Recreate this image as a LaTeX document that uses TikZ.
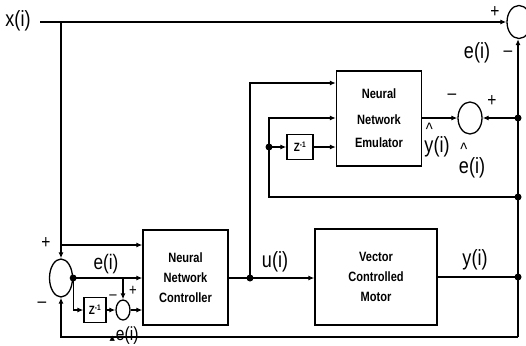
\documentclass[tikz,border=0pt]{standalone}
\usepackage{fontspec}
\setmainfont{Liberation Sans}
\newfontfamily\narrow[FakeStretch=0.82]{Liberation Sans}
\newfontfamily\dejavu{DejaVu Sans}
\usetikzlibrary{shapes.geometric,arrows.meta}
\begin{document}
\begin{tikzpicture}[x=1pt,y=-1pt,
  line width=1.3pt,
  arr/.style={-{Latex[length=6pt,width=5pt]}},
  blk/.style={draw,rectangle,inner sep=0pt,align=center,font=\narrow\bfseries\fontsize{13.5}{20}\selectfont},
  zbox/.style={draw,rectangle,inner sep=0pt,font=\narrow\bfseries\fontsize{12}{12}\selectfont},
  sumc/.style={draw,ellipse,inner sep=0pt},
  lbl/.style={inner sep=0pt,font=\narrow\fontsize{22}{22}\selectfont},
  sgn/.style={inner sep=0pt,font=\narrow\fontsize{19}{19}\selectfont},
  jdot/.style={circle,fill,inner sep=0pt,minimum size=7pt},
]
\useasboundingbox (0,0) rectangle (526,345);

% blocks
\node[blk,minimum width=85pt,minimum height=95pt] (emu) at (379,118.5)
  {\raisebox{5pt}{\begin{tabular}{@{}c@{}}Neural\\[6pt]Network\\[3pt]Emulator\end{tabular}}};
\node[blk,minimum width=85pt,minimum height=95pt] (ctrl) at (185.5,277.5)
  {Neural\\Network\\Controller};
\node[blk,minimum width=122pt,minimum height=96pt] (motor) at (376,277)
  {Vector\\Controlled\\Motor};
\node[zbox,minimum width=26pt,minimum height=25pt] (ze) at (300,147) {Z\textsuperscript{-1}};
\node[zbox,minimum width=22pt,minimum height=25pt] (zc) at (95,310) {Z\textsuperscript{-1}};

% summing junctions
\node[sumc,minimum width=24pt,minimum height=33pt] (topsum) at (519,22) {};
\node[sumc,minimum width=24pt,minimum height=32pt] (esum) at (470,118) {};
\node[sumc,minimum width=23pt,minimum height=38pt] (lsum) at (61,278) {};
\node[sumc,minimum width=14pt,minimum height=20pt] (ssum) at (123,310) {};

% coordinates
\coordinate (xs) at (40,22);
\coordinate (jx) at (61,22);
\coordinate (jxb) at (61,245);
\coordinate (eb) at (123,278);
\coordinate (ud) at (250,278);
\coordinate (uup) at (250,83);
\coordinate (jd) at (269,147);
\coordinate (edot) at (518,118);
\coordinate (fb) at (518,197);
\coordinate (ydot) at (518,277);
\coordinate (br) at (518,337);

% connectors
\draw[arr] (xs) -- (topsum.west);
\draw[arr] (jx) -- (lsum.north);
\draw[arr] (jxb) -- (ctrl.west |- jxb);
\draw[arr] (lsum.east) -- (ctrl.west |- lsum.east);
\draw[arr] (lsum.east) |- (zc.west);
\draw[arr] (zc.east) -- (ssum.west);
\draw[arr] (eb) -- (ssum.north);
\draw[arr] (ssum.east) -- (ctrl.west |- ssum.east);
\draw[arr] (ctrl.east |- ud) -- (motor.west |- ud);
\draw[arr] (ud) -- (uup) -- (emu.west |- uup);
\draw[arr] (fb) -| (jd |- edot) -- (emu.west |- edot);
\draw[arr] (jd) -- (ze.west);
\draw[arr] (ze.east) -- (emu.west |- ze.east);
\draw[arr] (emu.east |- esum.west) -- (esum.west);
\draw[arr] (edot) -- (esum.east);
\draw (motor.east |- ydot) -- (ydot);
\draw[arr] (br) -- (topsum.south -| br);
\draw[arr] (br) -| (lsum.south);

% dots
\node[jdot] (d1) at (lsum.east) {};
\node[jdot] (d2) at (ud) {};
\node[jdot] (d3) at (jd) {};
\node[jdot] (d4) at (edot) {};
\node[jdot] (d5) at (fb) {};
\node[jdot] (d6) at (ydot) {};

% labels
\node[lbl] (lx) at (18,21) {x(i)};
\node[lbl] (le1) at (477,53) {e(i)};
\node[sgn] (p1) at (495,12) {+};
\node[sgn] (m1) at (508,54) {–};
\node[sgn] (m2) at (452,97) {–};
\node[sgn] (p2) at (492,101) {+};
\node[lbl] (lyh) at (437,140) {\rlap{\kern1.5pt\raisebox{17pt}{\fontsize{18}{18}\selectfont\textasciicircum}}y(i)};
\node[lbl] (leh) at (472,161) {\rlap{\kern1.5pt\raisebox{18pt}{\fontsize{18}{18}\selectfont\textasciicircum}}e(i)};
\node[lbl] (lu) at (275,262) {u(i)};
\node[lbl] (ly) at (475,260) {y(i)};
\node[sgn] (p3) at (46,243) {+};
\node[sgn] (m3) at (42,305) {–};
\node[lbl,font=\narrow\fontsize{21}{21}\selectfont] (le2) at (106,264) {e(i)};
\node[sgn,font=\narrow\fontsize{16}{16}\selectfont] (p4) at (133,291) {+};
\node[sgn,font=\narrow\fontsize{16}{16}\selectfont] (m4) at (113,297) {–};
\node[lbl,font=\narrow\fontsize{19}{19}\selectfont] (lde) at (124,336) {{\dejavu\fontsize{7}{7}\selectfont ▲}\kern1pt e(i)};
\end{tikzpicture}
\end{document}
